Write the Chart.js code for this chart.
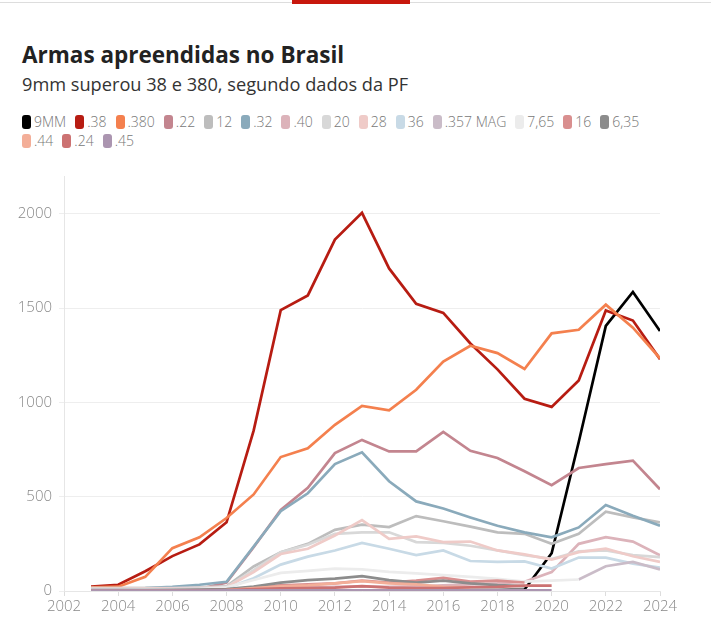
<!DOCTYPE html>
<html><head><meta charset="utf-8">
<script src="https://cdn.jsdelivr.net/npm/chart.js@4.4.1/dist/chart.umd.min.js"></script>
<style>
html,body{margin:0;padding:0;background:#fff;width:711px;height:621px;overflow:hidden;font-family:"Open Sans",sans-serif;}
#topline{position:absolute;left:0;top:2px;width:711px;height:1px;background:#ddd}
#topbar{position:absolute;left:292px;top:0;width:118px;height:4px;background:#c8170d}
#title{position:absolute;left:22px;top:39px;font-size:22.5px;font-weight:700;color:#222;white-space:nowrap}
#subtitle{position:absolute;left:22px;top:72px;font-size:18.2px;color:#333;white-space:nowrap}
#legend{position:absolute;left:22px;top:112px;width:640px;display:flex;flex-wrap:wrap}
.item{display:flex;align-items:center;margin-right:9px;height:19px;font-size:14px;color:#777;font-weight:300;white-space:nowrap}
.sw{width:9px;height:14px;border-radius:3px;margin-right:3px}
#wrap{position:absolute;left:0;top:160px;width:711px;height:461px}
</style></head>
<body>
<div id="topline"></div><div id="topbar"></div>
<div id="title">Armas apreendidas no Brasil</div>
<div id="subtitle">9mm superou 38 e 380, segundo dados da PF</div>
<div id="legend"></div>
<div id="wrap"><canvas id="c"></canvas></div>
<script>
const years = [2003,2004,2005,2006,2007,2008,2009,2010,2011,2012,2013,2014,2015,2016,2017,2018,2019,2020,2021,2022,2023,2024];
const xTicks = [2002,2004,2006,2008,2010,2012,2014,2016,2018,2020,2022,2024];
const yTicks = [0,500,1000,1500,2000];

const seriesNames = ['9MM','.38','.380','.22','12','.32','.40','20','28','36','.357 MAG','7,65','16','6,35','.44','.24','.45'];
const seriesColors = ['#000000','#b71c12','#f4804e','#c3858f','#bdbdbd','#8aaabb','#dcb3ba','#d8d8d8','#efcbc8','#c8dae6','#cabcc8','#ececec','#d98f8f','#8c8c8c','#f3ae98','#cc7272','#ab95b0'];

const s9mm = [null,null,null,null,null,null,null,null,null,null,null,null,null,5,5,5,8,200,790,1405,1585,1378];
const s38  = [23,33,105,185,247,364,850,1489,1567,1863,2005,1710,1522,1474,1312,1175,1019,976,1116,1487,1434,1229];
const s380 = [19,23,75,227,285,387,512,710,757,881,981,958,1067,1216,1300,1261,1177,1366,1385,1518,1396,1233];
const s22  = [5,5,6,8,10,45,232,430,547,731,801,740,740,843,743,705,635,561,652,673,691,539];
const s12  = [15,15,15,18,20,25,130,205,250,324,352,339,397,370,341,311,303,250,303,421,390,364];
const s32  = [10,12,15,22,33,49,236,423,518,673,735,582,475,437,390,346,311,285,337,456,399,346];
const s40  = [5,5,5,6,7,8,12,18,20,22,25,22,25,30,35,40,49,100,250,285,262,189];
const s20  = [15,15,15,16,18,22,110,205,245,303,311,311,259,255,240,215,190,170,210,215,190,180];
const s28  = [12,12,12,14,16,20,100,196,224,294,376,276,289,259,262,215,194,166,206,224,184,154];
const s36  = [8,8,8,10,12,15,68,140,182,215,255,224,190,215,159,154,157,119,177,177,145,124];
const s357 = [null,null,null,null,null,null,null,null,null,null,null,null,null,null,null,null,null,null,61,131,154,114];
const s765 = [5,5,6,8,10,20,58,96,107,119,115,101,93,84,75,65,50,55,61,null,null,null];
const s16  = [3,3,3,4,5,8,20,30,35,40,55,45,55,70,50,55,45,null,null,null,null,null];
const s635 = [5,5,5,6,7,10,23,44,58,66,79,58,44,55,40,31,26,null,null,null,null,null];
const s44  = [3,3,3,3,4,5,15,25,30,40,52,40,35,22,19,null,null,null,null,null,null,null];
const s24  = [2,2,2,2,3,5,10,14,15,18,26,18,15,15,20,22,28,28,null,null,null,null];
const s45  = [2,2,2,2,2,3,3,3,3,3,4,3,3,3,3,3,3,3,null,null,null,null];

const seriesValues = [s9mm,s38,s380,s22,s12,s32,s40,s20,s28,s36,s357,s765,s16,s635,s44,s24,s45];

// HTML legend
const lg = document.getElementById('legend');
seriesNames.forEach((n,i)=>{
  const it = document.createElement('div'); it.className='item';
  const sw = document.createElement('span'); sw.className='sw'; sw.style.background = seriesColors[i];
  const tx = document.createElement('span'); tx.textContent = n;
  it.appendChild(sw); it.appendChild(tx); lg.appendChild(it);
});

const N = seriesNames.length;
const datasets = seriesNames.map((n,i)=>({
  label: n,
  data: years.map((y,j)=>({x:y, y:seriesValues[i][j]})),
  borderColor: seriesColors[i],
  backgroundColor: seriesColors[i],
  borderWidth: 2.7,
  pointRadius: 0,
  pointHoverRadius: 0,
  tension: 0,
  fill: false,
  order: N - i
}));

new Chart(document.getElementById('c'), {
  type: 'line',
  data: { datasets },
  options: {
    responsive: true,
    maintainAspectRatio: false,
    animation: false,
    layout: { padding: { top: 11, right: 51, left: 0, bottom: 0 } },
    plugins: { legend: { display: false }, tooltip: { enabled: false } },
    scales: {
      x: {
        type: 'linear', min: 2002, max: 2024,
        afterBuildTicks: (s) => { s.ticks = xTicks.map(v => ({value: v})); },
        afterFit: (s) => { s.height = 30; },
        ticks: { color: '#888', font: { family: 'Open Sans', size: 15, weight: 300 }, padding: 2, maxRotation: 0,
                 callback: (v) => String(v) },
        grid: { drawOnChartArea: false, drawTicks: true, tickLength: 5, color: '#ddd' },
        border: { display: true, color: '#e6e6e6' }
      },
      y: {
        min: 0, max: 2200,
        afterBuildTicks: (s) => { s.ticks = yTicks.map(v => ({value: v})); },
        afterFit: (s) => { s.width = 64; },
        ticks: { color: '#888', font: { family: 'Open Sans', size: 15, weight: 300 }, padding: 7,
                 callback: (v) => String(v) },
        grid: { color: '#eeeeee', drawTicks: true, tickLength: 5 },
        border: { display: true, color: '#e6e6e6' }
      }
    }
  }
});
</script>
</body></html>
